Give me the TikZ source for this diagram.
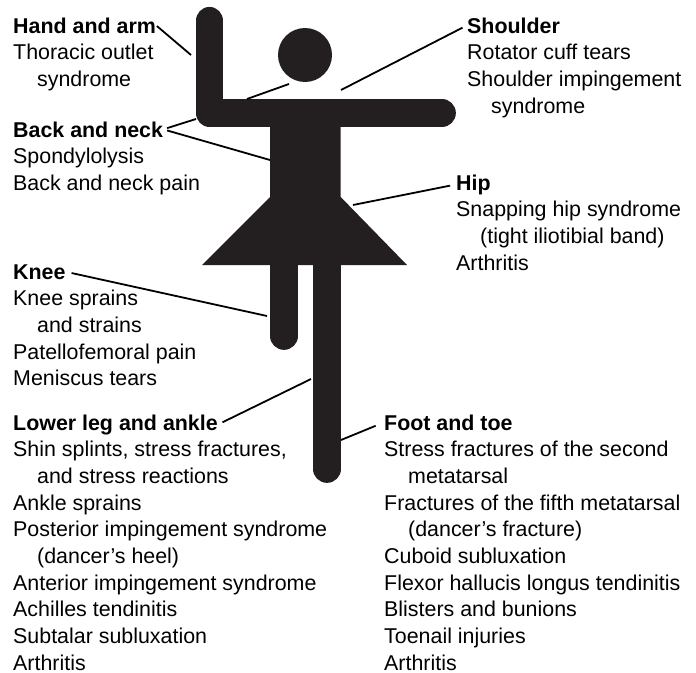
\documentclass[tikz,border=0pt]{standalone}
\usepackage{fontspec}
\setmainfont{Liberation Sans}
\usetikzlibrary{positioning}
\definecolor{bodyblack}{HTML}{231F20}
\newcommand{\indented}[1]{\hspace*{24pt}#1}
\newcommand{\toprule}{\rule{0pt}{18pt}}
\tikzset{
    heading/.style={anchor=base west, inner sep=0pt, font=\fontsize{21.4}{26.67}\selectfont\bfseries},
    itemlist/.style={inner sep=0pt, align=left, font=\fontsize{21.4}{26.67}\selectfont},
    limb/.style={draw=bodyblack, line width=27.7pt, line cap=round, line join=round},
    pointer/.style={draw=black, line width=1.8pt},
}
\begin{document}
\begin{tikzpicture}[x=1pt, y=-1pt]
    \useasboundingbox (0,0) rectangle (696,672);

    % Draw the figure
    \fill[bodyblack] (305,55) circle (27);
    \draw[limb] (209.5,20.8) -- (209.5,113) -- (442,113);
    \fill[bodyblack] (270,113) -- (340.7,113) -- (340.7,197) -- (407,265) -- (202,265) -- (270,197) -- cycle;
    \draw[limb] (284,250) -- (284,336);
    \draw[limb] (327,250) -- (327,469);

    % Left column
    \node[heading] (handarm) at (13,33) {Hand and arm};
    \node[itemlist, below right=8.67pt and 0pt of handarm.base west] (handarmlist) {\toprule Thoracic outlet\\\indented{syndrome}};

    \node[heading] (backneck) at (13,137) {Back and neck};
    \node[itemlist, below right=8.67pt and 0pt of backneck.base west] (backnecklist) {\toprule Spondylolysis\\Back and neck pain};

    \node[heading] (knee) at (13,279) {Knee};
    \node[itemlist, below right=8.67pt and 0pt of knee.base west] (kneelist) {\toprule Knee sprains\\\indented{and strains}\\Patellofemoral pain\\Meniscus tears};

    \node[heading] (lowerleg) at (13,430) {Lower leg and ankle};
    \node[itemlist, below right=8.67pt and 0pt of lowerleg.base west] (lowerleglist) {\toprule Shin splints, stress fractures,\\\indented{and stress reactions}\\Ankle sprains\\Posterior impingement syndrome\\\indented{(dancer’s heel)}\\Anterior impingement syndrome\\Achilles tendinitis\\Subtalar subluxation\\Arthritis};

    % Right column
    \node[heading] (shoulder) at (467,33) {Shoulder};
    \node[itemlist, below right=8.67pt and 0pt of shoulder.base west] (shoulderlist) {\toprule Rotator cuff tears\\Shoulder impingement\\\indented{syndrome}};

    \node[heading] (hip) at (456,190) {Hip};
    \node[itemlist, below right=8.67pt and 0pt of hip.base west] (hiplist) {\toprule Snapping hip syndrome\\\indented{(tight iliotibial band)}\\Arthritis};

    \node[heading] (foot) at (384,430) {Foot and toe};
    \node[itemlist, below right=8.67pt and 0pt of foot.base west] (footlist) {\toprule Stress fractures of the second\\\indented{metatarsal}\\Fractures of the fifth metatarsal\\\indented{(dancer’s fracture)}\\Cuboid subluxation\\Flexor hallucis longus tendinitis\\Blisters and bunions\\Toenail injuries\\Arthritis};

    % Connector ends on the figure
    \coordinate (armend) at (191,55);
    \coordinate (backupper) at (196,119);
    \coordinate (backlower) at (270,160);
    \coordinate (kneeend) at (267,316);
    \coordinate (lowerlegend) at (311,379);
    \coordinate (shoulderend) at (341,90);
    \coordinate (shoulderstart) at (289,84);
    \coordinate (shoulderstop) at (247,99);
    \coordinate (hipend) at (353,205);
    \coordinate (footend) at (341,440);

    % Draw the connectors
    \draw[pointer, shorten <=1pt] (handarm.east) -- (armend);
    \draw[pointer, shorten <=4pt] (backneck.east) -- (backupper);
    \draw[pointer, shorten <=4pt] (backneck.east) -- (backlower);
    \draw[pointer, shorten <=6pt] (knee.east) -- (kneeend);
    \draw[pointer, shorten <=5pt] (lowerleg.east) -- (lowerlegend);
    \draw[pointer, shorten <=5pt] (shoulder.west) -- (shoulderend);
    \draw[pointer] (shoulderstart) -- (shoulderstop);
    \draw[pointer, shorten <=6pt] (hip.west) -- (hipend);
    \draw[pointer, shorten <=9pt] (foot.west) -- (footend);
\end{tikzpicture}
\end{document}
